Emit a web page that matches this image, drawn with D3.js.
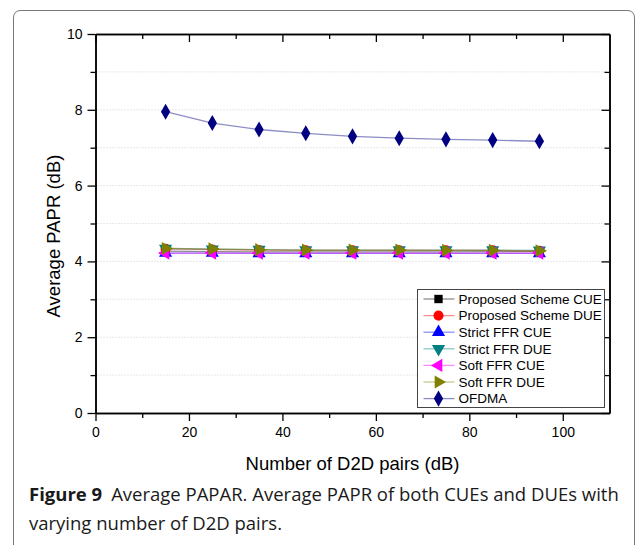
<!DOCTYPE html>
<html>
<head>
<meta charset="utf-8">
<script src="https://cdn.jsdelivr.net/npm/d3@7"></script>
<style>
  body { margin: 0; background: #fff; }
  text { font-family: "Liberation Sans", Arial, sans-serif; }
</style>
</head>
<body>
<div id="wrapper"></div>
<script>
// data
const pairs = [15, 25, 35, 45, 55, 65, 75, 85, 95];
const proposedCUE = [4.27, 4.26, 4.25, 4.25, 4.25, 4.25, 4.25, 4.26, 4.26];
const proposedDUE = [4.33, 4.31, 4.30, 4.29, 4.29, 4.29, 4.29, 4.29, 4.28];
const strictCUE = [4.22, 4.22, 4.21, 4.21, 4.21, 4.21, 4.21, 4.21, 4.21];
const strictDUE = [4.34, 4.32, 4.31, 4.30, 4.30, 4.30, 4.30, 4.30, 4.29];
const softCUE = [4.22, 4.22, 4.22, 4.22, 4.22, 4.22, 4.22, 4.22, 4.22];
const softDUE = [4.34, 4.33, 4.31, 4.30, 4.30, 4.30, 4.29, 4.29, 4.28];
const ofdma = [7.95, 7.65, 7.48, 7.38, 7.30, 7.25, 7.22, 7.20, 7.17];
const seriesNames = ["Proposed Scheme CUE", "Proposed Scheme DUE", "Strict FFR CUE",
  "Strict FFR DUE", "Soft FFR CUE", "Soft FFR DUE", "OFDMA"];
const xTicks = [0, 20, 40, 60, 80, 100];
const yTicks = [0, 2, 4, 6, 8, 10];

const series = [
  { name: seriesNames[0], values: proposedCUE, color: "#000000", shape: "square" },
  { name: seriesNames[1], values: proposedDUE, color: "#ff0000", shape: "circle" },
  { name: seriesNames[2], values: strictCUE, color: "#0000ff", shape: "up" },
  { name: seriesNames[3], values: strictDUE, color: "#008080", shape: "down" },
  { name: seriesNames[4], values: softCUE, color: "#ff00ff", shape: "left" },
  { name: seriesNames[5], values: softDUE, color: "#808000", shape: "right" },
  { name: seriesNames[6], values: ofdma, color: "#000080", shape: "diamond" }
];

const width = 637;
const height = 545;
const plot = { left: 95.5, right: 609.5, top: 34, bottom: 413 };

const svg = d3.select("#wrapper").append("svg")
  .attr("width", width)
  .attr("height", height);

// figure frame with rounded top corners
svg.append("path")
  .attr("d", `M13.5,560 L13.5,18 Q13.5,10.5 21,10.5 L627,10.5 Q634.5,10.5 634.5,18 L634.5,560`)
  .attr("fill", "none")
  .attr("stroke", "#777")
  .attr("stroke-width", 1);

const x = d3.scaleLinear().domain([0, 110]).range([plot.left, plot.right]);
const y = d3.scaleLinear().domain([0, 10]).range([plot.bottom, plot.top]);

// dotted horizontal grid
svg.append("g")
  .selectAll("line")
  .data(d3.range(1, 10))
  .join("line")
  .attr("x1", plot.left + 2)
  .attr("x2", plot.right - 2)
  .attr("y1", d => y(d))
  .attr("y2", d => y(d))
  .attr("stroke", "#d0d0d0")
  .attr("stroke-width", 1)
  .attr("stroke-dasharray", "1,2");

function styleAxis(g) {
  g.selectAll("path").attr("stroke", "#000").attr("stroke-width", 1.5);
  g.selectAll("line").attr("stroke", "#000").attr("stroke-width", 1.3);
  g.selectAll("text").attr("font-size", 14).attr("fill", "#000")
    .style("font-family", "'Liberation Sans', Arial, sans-serif");
}

// bottom axis (outward ticks)
const xMinor = d3.range(10, 110, 20);
svg.append("g")
  .attr("transform", `translate(0,${plot.bottom})`)
  .call(d3.axisBottom(x).tickValues(xTicks).tickSize(8).tickPadding(6).tickSizeOuter(0))
  .call(styleAxis);
svg.append("g")
  .attr("transform", `translate(0,${plot.bottom})`)
  .call(d3.axisBottom(x).tickValues(xMinor).tickSize(5).tickFormat("").tickSizeOuter(0))
  .call(styleAxis);

// top axis (inward ticks)
svg.append("g")
  .attr("transform", `translate(0,${plot.top})`)
  .call(d3.axisTop(x).tickValues(xTicks).tickSize(-8).tickFormat("").tickSizeOuter(0))
  .call(styleAxis);
svg.append("g")
  .attr("transform", `translate(0,${plot.top})`)
  .call(d3.axisTop(x).tickValues(xMinor).tickSize(-5).tickFormat("").tickSizeOuter(0))
  .call(styleAxis);

// left axis (outward ticks)
const yMinor = d3.range(1, 10, 2);
svg.append("g")
  .attr("transform", `translate(${plot.left},0)`)
  .call(d3.axisLeft(y).tickValues(yTicks).tickSize(8).tickPadding(5).tickSizeOuter(0))
  .call(styleAxis);
svg.append("g")
  .attr("transform", `translate(${plot.left},0)`)
  .call(d3.axisLeft(y).tickValues(yMinor).tickSize(5).tickFormat("").tickSizeOuter(0))
  .call(styleAxis);

// right axis (inward ticks)
svg.append("g")
  .attr("transform", `translate(${plot.right},0)`)
  .call(d3.axisRight(y).tickValues(yTicks).tickSize(-8).tickFormat("").tickSizeOuter(0))
  .call(styleAxis);
svg.append("g")
  .attr("transform", `translate(${plot.right},0)`)
  .call(d3.axisRight(y).tickValues(yMinor).tickSize(-5).tickFormat("").tickSizeOuter(0))
  .call(styleAxis);

// axis titles
svg.append("text")
  .attr("x", (plot.left + plot.right) / 2)
  .attr("y", 470)
  .attr("text-anchor", "middle")
  .attr("font-size", 18.5)
  .text("Number of D2D pairs (dB)");

svg.append("text")
  .attr("transform", `translate(53,236) rotate(-90)`)
  .attr("text-anchor", "middle")
  .attr("dominant-baseline", "central")
  .attr("font-size", 18.5)
  .text("Average PAPR (dB)");

// marker shapes
const symbolFor = {
  square: d3.symbol(d3.symbolSquare, 70),
  circle: d3.symbol(d3.symbolCircle, 80),
  up: d3.symbol(d3.symbolTriangle, 75),
  down: d3.symbol(d3.symbolTriangle, 75),
  left: d3.symbol(d3.symbolTriangle, 75),
  right: d3.symbol(d3.symbolTriangle, 75),
  diamond: d3.symbol(d3.symbolDiamond, 75)
};
const rotateFor = { square: 0, circle: 0, up: 0, down: 180, left: -90, right: 90, diamond: 0 };

const line = d3.line()
  .x((d, i) => x(pairs[i]))
  .y(d => y(d));

series.forEach(s => {
  const g = svg.append("g");
  g.append("path")
    .attr("d", line(s.values))
    .attr("fill", "none")
    .attr("stroke", s.color)
    .attr("stroke-opacity", 0.45)
    .attr("stroke-width", 1.3);
  g.selectAll("path.marker")
    .data(s.values)
    .join("path")
    .attr("class", "marker")
    .attr("d", symbolFor[s.shape])
    .attr("transform", (d, i) => `translate(${x(pairs[i])},${y(d)}) rotate(${rotateFor[s.shape]})`)
    .attr("fill", s.color);
});

// legend
const legend = svg.append("g").attr("transform", "translate(417.5,289.5)");
legend.append("rect")
  .attr("width", 187)
  .attr("height", 118)
  .attr("fill", "#fff")
  .attr("stroke", "#444")
  .attr("stroke-width", 1);

const rows = legend.selectAll("g.row")
  .data(series)
  .join("g")
  .attr("class", "row")
  .attr("transform", (d, i) => `translate(0,${9.5 + i * 16.6})`);
rows.append("line")
  .attr("x1", 6)
  .attr("x2", 37)
  .attr("stroke", d => d.color)
  .attr("stroke-opacity", 0.45)
  .attr("stroke-width", 1.3);
rows.append("path")
  .attr("d", d => symbolFor[d.shape]())
  .attr("transform", d => `translate(21,0) rotate(${rotateFor[d.shape]})`)
  .attr("fill", d => d.color);
rows.append("text")
  .attr("x", 41)
  .attr("dy", "0.36em")
  .attr("font-size", 13.5)
  .text(d => d.name);

// caption
const caption = svg.append("text")
  .attr("x", 29)
  .attr("y", 501)
  .attr("font-size", 18.5)
  .attr("fill", "#1a1a1a")
  .style("font-family", "'Open Sans', 'Noto Sans', sans-serif");
caption.append("tspan").attr("font-weight", "bold").text("Figure 9");
caption.append("tspan").attr("dx", 9).text("Average PAPAR. Average PAPR of both CUEs and DUEs with");
svg.append("text")
  .attr("x", 29)
  .attr("y", 530)
  .attr("font-size", 18.5)
  .attr("fill", "#1a1a1a")
  .style("font-family", "'Open Sans', 'Noto Sans', sans-serif")
  .text("varying number of D2D pairs.");
</script>
</body>
</html>
